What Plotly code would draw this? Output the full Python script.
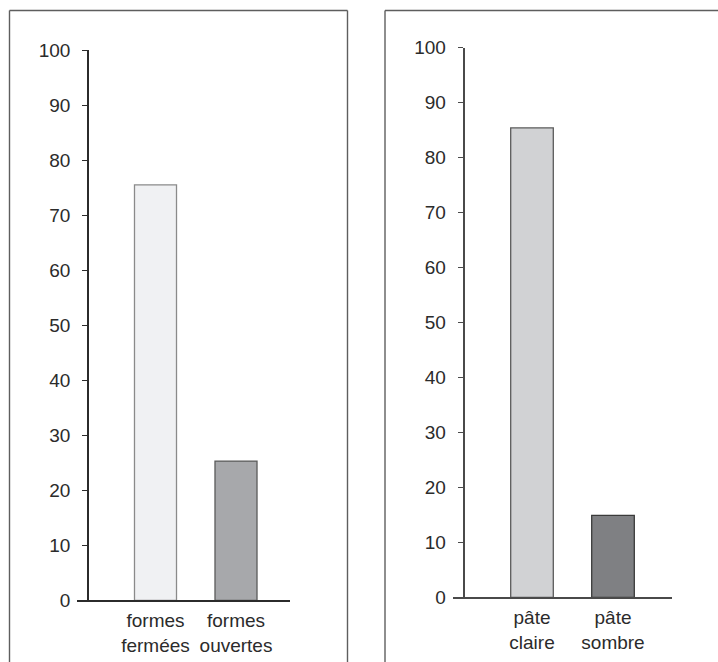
import plotly.graph_objects as go

# Data
left_categories = ["formes<br>fermées", "formes<br>ouvertes"]
left_values = [75.5, 25.3]
right_categories = ["pâte<br>claire", "pâte<br>sombre"]
right_values = [85.4, 14.9]
y_tickvals = [0, 10, 20, 30, 40, 50, 60, 70, 80, 90, 100]

W, H = 718, 662
FONT = "Liberation Sans, Arial, sans-serif"
TXT = "#2b2b2b"

def px(x):
    return x / W

def py(y):
    return 1 - y / H

fig = go.Figure()

fig.add_trace(go.Bar(
    x=left_categories, y=left_values, xaxis="x", yaxis="y",
    width=0.522,
    marker=dict(color=["#f0f1f3", "#a7a8ab"],
                line=dict(color=["#8a8a8a", "#5a5a5a"], width=1.3)),
    showlegend=False, hoverinfo="x+y",
))
fig.add_trace(go.Bar(
    x=right_categories, y=right_values, xaxis="x2", yaxis="y2",
    width=0.526,
    marker=dict(color=["#d1d2d4", "#7f8083"],
                line=dict(color=["#5a5a5a", "#3a3a3a"], width=1.3)),
    showlegend=False, hoverinfo="x+y",
))

ytickfont = dict(family=FONT, size=19, color=TXT)
xtickfont = dict(family=FONT, size=19, color=TXT)

def xaxis_cfg(x0, x1, first_center, spacing, anchor, linecolor):
    left_u = (first_center - x0) / spacing
    span_u = (x1 - x0) / spacing
    return dict(
        domain=[px(x0), px(x1)], anchor=anchor,
        range=[-left_u, span_u - left_u],
        showline=True, linecolor=linecolor, linewidth=1.5,
        showgrid=False, zeroline=False, ticks="",
        tickfont=xtickfont, ticklabelstandoff=2, fixedrange=True,
        automargin=False,
    )

def yaxis_cfg(y0, y100, xpos, linecolor, ticks, labels, overlay=None):
    d = dict(
        domain=[py(y0), py(y100)], range=[0, 100],
        anchor="free", position=px(xpos),
        showline=True, linecolor=linecolor, linewidth=1.5,
        showgrid=False, zeroline=False,
        tickvals=y_tickvals, ticks=ticks, ticklen=5 if ticks == "outside" else 4,
        tickwidth=1.3, tickcolor=linecolor,
        showticklabels=labels, tickfont=ytickfont, ticklabelstandoff=8,
        fixedrange=True, automargin=False,
    )
    if overlay:
        d["overlaying"] = overlay
    return d

fig.update_layout(
    width=W, height=H,
    margin=dict(l=0, r=0, t=0, b=0, autoexpand=False),
    paper_bgcolor="white", plot_bgcolor="rgba(0,0,0,0)",
    bargap=0.5,
    xaxis=xaxis_cfg(77, 290, 155.5, 80.5, "y", "#2b2b2b"),
    yaxis=yaxis_cfg(600.3, 50, 88, "#2b2b2b", "outside", True),
    yaxis3=yaxis_cfg(600.3, 50, 88, "#2b2b2b", "inside", False, overlay="y"),
    xaxis2=xaxis_cfg(453.3, 671.7, 532, 81, "y2", "#4a4a4a"),
    yaxis2=yaxis_cfg(597.3, 47.7, 463.5, "#4a4a4a", "outside", True),
    yaxis4=yaxis_cfg(597.3, 47.7, 463.5, "#4a4a4a", "inside", False, overlay="y2"),
)

# panel frames
border = dict(color="#5e5e5e", width=1.4)
frames = [
    (px(9.5), py(10.5), px(9.5), py(670)),
    (px(9.5), py(10.5), px(347.5), py(10.5)),
    (px(347.5), py(10.5), px(347.5), py(670)),
    (px(385), py(10.5), px(385), py(670)),
    (px(385), py(10.5), px(730), py(10.5)),
]
for x0, y0, x1, y1 in frames:
    fig.add_shape(type="line", xref="paper", yref="paper",
                  x0=x0, y0=y0, x1=x1, y1=y1, line=border, layer="below")

fig.write_html(
    "out.html",
    config={"displayModeBar": False},
    post_script="document.body.style.margin='0';document.body.style.overflow='hidden';",
)
